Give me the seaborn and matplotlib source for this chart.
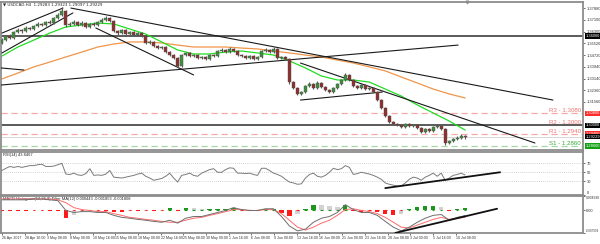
import numpy as np
import pandas as pd
import matplotlib
matplotlib.use("Agg")
import matplotlib.pyplot as plt
import matplotlib.transforms as mtransforms
import seaborn as sns

sns.set_theme(style="white")
plt.rcParams['font.family'] = ['Liberation Sans Narrow', 'Liberation Sans', 'DejaVu Sans']

# ---------------- data ----------------
symbol_title = "USDCAD,H4  1.29283 1.29323 1.29097 1.29229"
rsi_title = "RSI(14) 43.8467"
macd_title = "MACD Histogram(12,26,9) Filter MA(12) 0.000443 -0.001853 -0.001808"

first_open = 1.3555
closes = [1.3573,1.3600,1.3587,1.3627,1.3640,1.3634,1.3654,1.3647,1.3667,1.3681,
          1.3674,1.3694,1.3687,1.3721,1.3741,1.3768,1.3674,1.3681,1.3694,1.3674,
          1.3687,1.3661,1.3681,1.3674,1.3694,1.3708,1.3721,1.3701,1.3634,1.3620,
          1.3640,1.3613,1.3627,1.3607,1.3620,1.3600,1.3553,1.3560,1.3533,1.3519,
          1.3526,1.3492,1.3472,1.3452,1.3398,1.3472,1.3486,1.3465,1.3472,1.3452,
          1.3459,1.3445,1.3472,1.3465,1.3499,1.3506,1.3492,1.3513,1.3499,1.3472,
          1.3465,1.3452,1.3465,1.3445,1.3459,1.3499,1.3506,1.3492,1.3513,1.3452,
          1.3459,1.3445,1.3290,1.3250,1.3210,1.3223,1.3264,1.3277,1.3250,1.3284,
          1.3257,1.3237,1.3223,1.3250,1.3277,1.3304,1.3338,1.3304,1.3264,1.3250,
          1.3270,1.3243,1.3250,1.3223,1.3169,1.3115,1.3062,1.3021,1.3008,1.3001,
          1.2988,1.3008,1.2994,1.3001,1.2981,1.2954,1.2974,1.2961,1.2988,1.2994,
          1.2974,1.2880,1.2893,1.2907,1.2914,1.2927,1.2923]
highs = [1.3585,1.3610,1.3612,1.3635,1.3652,1.3650,1.3664,1.3663,1.3676,1.3692,
         1.3690,1.3702,1.3705,1.3730,1.3752,1.3793,1.3775,1.3695,1.3706,1.3700,
         1.3698,1.3694,1.3690,1.3692,1.3703,1.3718,1.3735,1.3730,1.3708,1.3642,
         1.3650,1.3647,1.3636,1.3633,1.3630,1.3628,1.3606,1.3570,1.3566,1.3540,
         1.3535,1.3530,1.3498,1.3478,1.3458,1.3480,1.3495,1.3492,1.3482,1.3478,
         1.3468,1.3465,1.3480,1.3478,1.3507,1.3516,1.3512,1.3524,1.3519,1.3505,
         1.3480,1.3470,1.3474,1.3470,1.3468,1.3508,1.3516,1.3513,1.3527,1.3518,
         1.3468,1.3465,1.3450,1.3298,1.3256,1.3232,1.3272,1.3288,1.3284,1.3294,
         1.3290,1.3263,1.3244,1.3258,1.3285,1.3313,1.3348,1.3343,1.3310,1.3270,
         1.3280,1.3276,1.3260,1.3256,1.3228,1.3175,1.3120,1.3068,1.3028,1.3016,
         1.3008,1.3016,1.3014,1.3010,1.3006,1.2986,1.2982,1.2980,1.2996,1.3005,
         1.2998,1.2978,1.2902,1.2915,1.2924,1.2940,1.2932]
lows = [1.3545,1.3565,1.3578,1.3580,1.3618,1.3622,1.3626,1.3638,1.3640,1.3660,
        1.3665,1.3668,1.3678,1.3680,1.3714,1.3735,1.3662,1.3664,1.3672,1.3665,
        1.3668,1.3652,1.3655,1.3666,1.3668,1.3688,1.3700,1.3692,1.3625,1.3610,
        1.3612,1.3605,1.3606,1.3598,1.3600,1.3592,1.3545,1.3544,1.3525,1.3510,
        1.3512,1.3484,1.3464,1.3443,1.3385,1.3392,1.3465,1.3458,1.3457,1.3445,
        1.3444,1.3436,1.3440,1.3457,1.3460,1.3492,1.3485,1.3486,1.3492,1.3465,
        1.3457,1.3444,1.3446,1.3437,1.3439,1.3454,1.3493,1.3485,1.3487,1.3445,
        1.3444,1.3437,1.3280,1.3240,1.3200,1.3202,1.3218,1.3257,1.3243,1.3245,
        1.3250,1.3229,1.3215,1.3218,1.3244,1.3270,1.3298,1.3297,1.3256,1.3242,
        1.3244,1.3236,1.3236,1.3215,1.3160,1.3106,1.3053,1.3012,1.2998,1.2992,
        1.2980,1.2982,1.2986,1.2987,1.2974,1.2946,1.2948,1.2954,1.2956,1.2982,
        1.2966,1.2868,1.2872,1.2885,1.2900,1.2908,1.2909]

# moving averages sampled every 4 candles
ma_fast = [1.3465,1.3526,1.3573,1.3620,1.3661,1.3674,1.3687,1.3681,1.3647,1.3613,
           1.3560,1.3506,1.3479,1.3479,1.3492,1.3499,1.3486,1.3472,1.3432,1.3385,
           1.3331,1.3304,1.3304,1.3290,1.3243,1.3196,1.3136,1.3082,1.3028,1.2967]
ma_slow = [1.3311,1.3351,1.3392,1.3425,1.3459,1.3492,1.3526,1.3546,1.3560,1.3560,
           1.3553,1.3539,1.3526,1.3526,1.3526,1.3519,1.3513,1.3499,1.3486,1.3472,
           1.3459,1.3438,1.3418,1.3392,1.3365,1.3324,1.3284,1.3243,1.3210,1.3183]

# trend lines: (bar0, price0, bar1, price1), bars = H4 bar index
trend_lines = [(0.0, 1.3620, 43.0, 1.3788),
               (0.0, 1.3486, 50.0, 1.3755),
               (48.6, 1.3788, 388.7, 1.3169),
               (210.6, 1.3418, 376.0, 1.2880),
               (66.2, 1.3654, 135.2, 1.3338),
               (-0.7, 1.3270, 321.8, 1.3539),
               (-0.7, 1.3385, 15.5, 1.3371),
               (210.6, 1.3169, 268.3, 1.3223)]
h_levels = [1.3600, 1.3000]
res_levels = [1.3080, 1.2940]
sup_levels = [1.2860]
level_names = ["R3 - 1.3080", "R2 - 1.3000", "R1 - 1.2940", "S1 - 1.2860"]
level_values = [1.3080, 1.3000, 1.2940, 1.2860]
current_price = 1.29229

price_ticks = [1.37880, 1.37100, 1.36300, 1.35520, 1.34720, 1.33940, 1.33140, 1.32360, 1.31560]

rsi = [54,59,63,61,63,61,63,65,65,67,
       68,63,63,64,67,70,46,45,48,44,
       43,47,58,43,44,43,46,54,39,38,
       37,39,41,43,46,48,41,37,32,34,
       36,41,48,37,28,43,45,48,43,41,
       48,52,56,58,50,50,56,60,59,48,
       48,47,48,45,43,59,59,54,48,45,
       41,34,28,26,23,24,37,45,48,41,
       39,43,50,59,56,58,65,61,45,47,
       50,48,46,43,39,34,26,23,21,19,
       19,26,34,39,37,32,39,43,48,41,
       48,32,37,43,45,48,43.8]
rsi_levels = [70, 50, 30]
rsi_trend = (270.4, 14.4, 351.4, 50.0)

# MACD sampled every 2 candles
macd = [0.0036,0.0036,0.0036,0.0036,0.0039,0.0039,0.0036,0.0033,-0.0001,-0.0008,
        -0.0005,-0.0005,-0.0008,-0.0008,-0.0018,-0.0025,-0.0028,-0.0032,-0.0035,-0.0039,
        -0.0042,-0.0035,-0.0045,-0.0028,-0.0022,-0.0022,-0.0015,-0.0008,-0.0001,0.0009,
        0.0002,-0.0001,-0.0001,0.0005,0.0005,-0.0022,-0.0055,-0.0072,-0.0066,-0.0042,
        -0.0028,-0.0022,-0.0008,0.0019,0.0002,-0.0008,-0.0008,-0.0018,-0.0039,-0.0059,
        -0.0072,-0.0059,-0.0042,-0.0028,-0.0018,-0.0015,-0.0035,-0.0025,-0.0019]
signal = [0.0039,0.0039,0.0039,0.0039,0.0039,0.0039,0.0039,0.0036,0.0026,0.0009,
          0.0002,-0.0001,-0.0005,-0.0005,-0.0012,-0.0018,-0.0025,-0.0028,-0.0032,-0.0035,
          -0.0039,-0.0042,-0.0042,-0.0035,-0.0028,-0.0025,-0.0018,-0.0012,-0.0005,0.0002,
          0.0002,-0.0001,-0.0001,0.0002,0.0002,-0.0012,-0.0035,-0.0059,-0.0069,-0.0059,
          -0.0045,-0.0035,-0.0018,0.0002,0.0005,-0.0001,-0.0005,-0.0012,-0.0025,-0.0042,
          -0.0059,-0.0062,-0.0052,-0.0042,-0.0032,-0.0025,-0.0032,-0.0028,-0.0025]
macd_trend = (277.5, -0.0079, 349.3, 0.0005)
macd_max, macd_min = 0.004930, -0.007934

date_labels = ["26 Apr 2017", "28 Apr 16:00", "3 May 08:00", "8 May 00:00", "10 May 16:00",
               "15 May 08:00", "18 May 00:00", "22 May 16:00", "25 May 08:00", "30 May 00:00",
               "1 Jun 16:00", "6 Jun 08:00", "9 Jun 00:00", "13 Jun 16:00", "16 Jun 08:00",
               "21 Jun 00:00", "23 Jun 16:00", "28 Jun 08:00", "3 Jul 00:00", "5 Jul 16:00",
               "10 Jul 08:00"]

# ---------------- layout ----------------
BAR_STEP = 4 / 1.42          # H4 bars per drawn candle
LABEL_EVERY = 16             # H4 bars between date labels
XLIM = (-0.7, 409.9)
FS = 2.9
n = len(closes)
cx = np.arange(n) * BAR_STEP
opens = [first_open] + closes[:-1]

fig = plt.figure(figsize=(6, 2.44), dpi=100)
fig.patch.set_facecolor('white')
L, W = 1 / 600, 582 / 600
def frac(top, bottom):
    return [L, 1 - bottom / 244, W, (bottom - top) / 244]

ax = fig.add_axes(frac(1.5, 149.5))
ax_r = fig.add_axes(frac(151.5, 194.5))
ax_m = fig.add_axes(frac(196, 233))

SPINE = '#8c8c8c'
for a in (ax, ax_r, ax_m):
    a.set_facecolor('white')
    a.set_xlim(*XLIM)
    for s in a.spines.values():
        s.set_color(SPINE)
        s.set_linewidth(1.3)
    a.yaxis.tick_right()
    a.tick_params(axis='y', labelsize=FS, length=1.5, pad=1, colors='#333333', width=0.5)
    a.tick_params(axis='x', bottom=False, labelbottom=False)

# ---------------- main panel ----------------
ax.set_ylim(1.28362, 1.38322)
ax.set_yticks(price_ticks)
ax.set_yticklabels([f"{v:.5f}" for v in price_ticks])

for lv in h_levels:
    ax.axhline(lv, color='#5a5a5a', lw=1.4, zorder=1)
for lv in res_levels:
    ax.axhline(lv, color='#f6a8a8', lw=0.9, ls=(0, (5, 3)), zorder=1)
for lv in sup_levels:
    ax.axhline(lv, color='#a6d8a6', lw=0.9, ls=(0, (5, 3)), zorder=1)
ax.axhline(current_price, color='#d0d0d0', lw=0.6, zorder=1)

for (x0, y0, x1, y1) in trend_lines:
    ax.plot([x0, x1], [y0, y1], color='#1a1a1a', lw=0.8, zorder=3)

sns.lineplot(x=np.arange(len(ma_slow)) * 4 * BAR_STEP, y=ma_slow, ax=ax,
             color='#f0954a', lw=0.9, estimator=None, zorder=2)
sns.lineplot(x=np.arange(len(ma_fast)) * 4 * BAR_STEP, y=ma_fast, ax=ax,
             color='#22dd22', lw=0.9, estimator=None, zorder=2)

ax.vlines(cx, lows, highs, color='#5a5a5a', lw=0.8, zorder=4)
o = np.array(opens); c = np.array(closes)
bull = c >= o
ax.bar(cx[bull], (c - o)[bull], bottom=o[bull], width=2.1, color='#3d8f3d',
       edgecolor='#505050', linewidth=0.3, zorder=5)
ax.bar(cx[~bull], (o - c)[~bull], bottom=c[~bull], width=2.1, color='#8e3030',
       edgecolor='#505050', linewidth=0.3, zorder=5)

blend = mtransforms.blended_transform_factory(ax.transAxes, ax.transData)
for name, val in zip(level_names, level_values):
    col = '#38a838' if name.startswith('S') else '#f07272'
    ax.text(0.996, val + 0.0002, name, transform=blend, ha='right', va='bottom',
            fontsize=4.4, color=col, zorder=6)

boxes = [(1.3600, '#000000'), (1.3080, '#ff2a2a'), (1.3000, '#000000'),
         (1.2940, '#ff2a2a'), (current_price, '#000000'), (1.2860, '#14a014')]
for val, fc in boxes:
    ax.text(1.004, val, f"{val:.5f}", transform=blend, ha='left', va='center',
            fontsize=FS, color='white', clip_on=False,
            bbox=dict(boxstyle='square,pad=0.15', fc=fc, ec='none'))

ax.text(0.004, 0.99, "\u25bc " + symbol_title, transform=ax.transAxes, ha='left', va='top',
        fontsize=FS, color='#222222', family=['Liberation Sans Narrow', 'DejaVu Sans'])
ax.plot([328], [1.3830], marker='v', ms=2, color='#909090', clip_on=False)

# ---------------- RSI panel ----------------
ax_r.set_ylim(0, 96.7)
ax_r.set_yticks([70, 50, 30, 0])
ax_r.set_yticklabels(['70', '50', '30', '0'])
for lbl in ax_r.get_yticklabels():
    if lbl.get_text() == '0':
        lbl.set_va('bottom')
for lv in rsi_levels:
    ax_r.axhline(lv, color='#c4c4c4', lw=0.6, ls=(0, (1, 1.5)))
sns.lineplot(x=cx, y=rsi, ax=ax_r, color='#7a7a7a', lw=0.7, estimator=None)
x0, y0, x1, y1 = rsi_trend
ax_r.plot([x0, x1], [y0, y1], color='#111111', lw=1.3)
ax_r.text(0.004, 0.97, rsi_title, transform=ax_r.transAxes, ha='left', va='top',
          fontsize=FS, color='#222222')

# ---------------- MACD panel ----------------
mx = np.arange(len(macd)) * 2 * BAR_STEP
m = np.array(macd); s = np.array(signal)
hist = m - s
prev = np.concatenate([[hist[0]], hist[:-1]])
cols = []
for h, p in zip(hist, prev):
    if h > 0 and h >= p:
        cols.append('#1e961e')
    elif h < 0 and h <= p:
        cols.append('#ff1a1a')
    else:
        cols.append('#d2d2d2')
ax_m.set_ylim(macd_min, macd_max)
ax_m.set_yticks([macd_max, 0.0, macd_min])
ax_m.set_yticklabels([f"{macd_max:.6f}", "0.00", f"{macd_min:.6f}"])
ax_m.tick_params(axis='y', pad=0.6)
tl = ax_m.get_yticklabels()
tl[0].set_va('top')
tl[2].set_va('bottom')
tl[0].set_fontsize(2.4)
tl[2].set_fontsize(2.1)
ax_m.bar(mx, hist, width=3.0, color=cols, linewidth=0, zorder=2)
zc = ['#1e961e' if h > 0 else '#ff1a1a' for h in hist]
ax_m.scatter(mx, np.zeros_like(mx), marker='_', s=3, c=zc, linewidths=0.8, zorder=3)
sns.lineplot(x=mx, y=signal, ax=ax_m, color='#ff6a6a', lw=0.7, estimator=None, zorder=4)
sns.lineplot(x=mx, y=macd, ax=ax_m, color='#6e6e6e', lw=0.7, estimator=None, zorder=5)
x0, y0, x1, y1 = macd_trend
ax_m.plot([x0, x1], [y0, y1], color='#111111', lw=1.3, zorder=6)
ax_m.text(0.004, 0.97, macd_title, transform=ax_m.transAxes, ha='left', va='top',
          fontsize=FS, color='#222222')

ax_m.tick_params(axis='x', bottom=True, labelbottom=True, labelsize=2.6, length=1.5,
                 pad=1, colors='#333333', width=0.5)
ax_m.set_xticks(np.arange(len(date_labels)) * LABEL_EVERY)
ax_m.set_xticklabels(date_labels)
for lbl in ax_m.get_xticklabels():
    lbl.set_ha('left')

for a in (ax, ax_r, ax_m):
    a.set_xlabel('')
    a.set_ylabel('')
    if a.get_legend():
        a.get_legend().remove()

fig.savefig("out.png", dpi=100, facecolor='white')
